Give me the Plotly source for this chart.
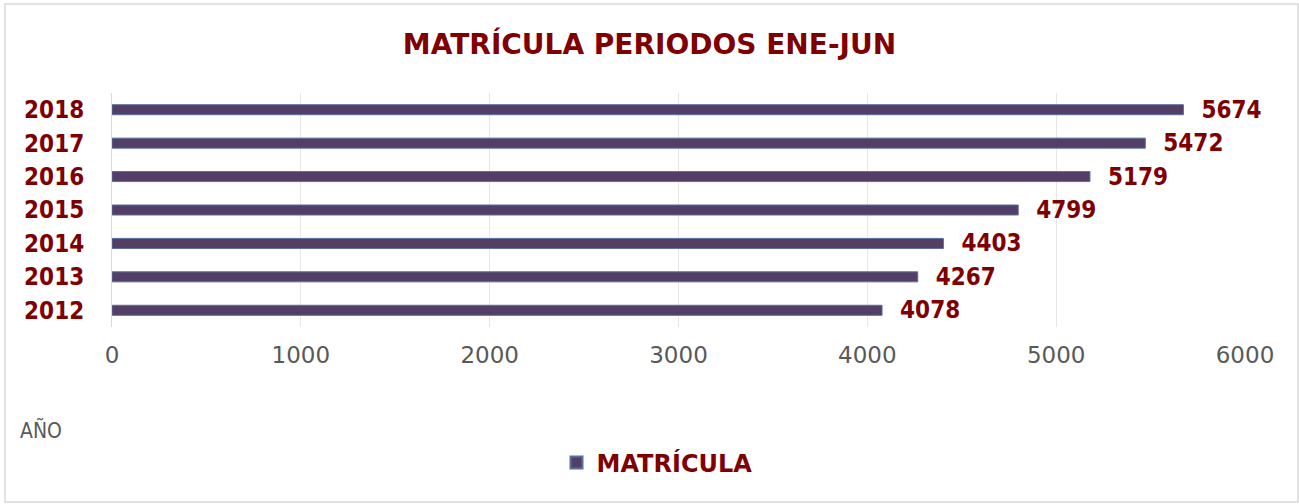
import plotly.graph_objects as go

years = ["2012", "2013", "2014", "2015", "2016", "2017", "2018"]
matricula = [4078, 4267, 4403, 4799, 5179, 5472, 5674]
x_ticks = [0, 1000, 2000, 3000, 4000, 5000, 6000]

RED = "#7f0000"
FONT = "DejaVu Sans Condensed, DejaVu Sans, sans-serif"
FONT_WIDE = "DejaVu Sans, sans-serif"

fig = go.Figure()
fig.add_trace(go.Bar(
    y=years, x=matricula, orientation="h", name="MATRÍCULA",
    width=0.3,
    marker=dict(color="#533f66", line=dict(color="#5a6fa0", width=1)),
    text=matricula, texttemplate="  %{x}", textposition="outside",
    constraintext="none",
    textfont=dict(family=FONT, size=24, color=RED, weight="bold"),
    cliponaxis=False,
))

fig.update_layout(
    width=1299, height=504,
    margin=dict(l=112, r=54, t=93, b=177, autoexpand=False),
    paper_bgcolor="white", plot_bgcolor="white",
    font=dict(family=FONT),
    title=dict(text="MATRÍCULA PERIODOS ENE-JUN", x=0.5, xanchor="center",
               xref="container",
               y=1 - 44 / 504, yanchor="middle",
               font=dict(family=FONT_WIDE, size=28, color=RED, weight="bold")),
    bargap=0.7,
    showlegend=True,
    legend=dict(orientation="h", x=(657 - 112) / 1133, xanchor="center",
                y=-(463 - 327) / 234, yanchor="middle",
                font=dict(family=FONT_WIDE, size=24, color=RED, weight="bold"),
                itemsizing="constant"),
    xaxis=dict(range=[0, 6000], tickvals=x_ticks, showgrid=True,
               gridcolor="#e6e6e6", gridwidth=1, zeroline=False,
               tickfont=dict(family=FONT_WIDE, size=23, color="#595959"),
               ticklabelstandoff=12, showline=False, automargin=False),
    yaxis=dict(type="category", categoryorder="array", categoryarray=years,
               tickfont=dict(family=FONT, size=24, color=RED, weight="bold"),
               showline=True, linecolor="#d9d9d9", linewidth=1,
               ticklabelstandoff=22, showgrid=False, automargin=False),
    shapes=[dict(type="rect", xref="paper", yref="paper",
                 x0=(5 - 112) / 1133, x1=(1298 - 112) / 1133,
                 y0=-(502 - 327) / 234, y1=1 + (93 - 4) / 234,
                 line=dict(color="#d9d9d9", width=1.5), fillcolor="rgba(0,0,0,0)")],
    annotations=[dict(text="AÑO", xref="paper", yref="paper",
                      x=(18 - 112) / 1133, y=-(430 - 327) / 234,
                      xanchor="left", yanchor="middle", showarrow=False,
                      font=dict(family=FONT, size=21, color="#595959"))],
)

fig.write_html("out.html", config={"displayModeBar": False},
               post_script="document.body.style.margin='0';document.body.style.overflow='hidden';")
